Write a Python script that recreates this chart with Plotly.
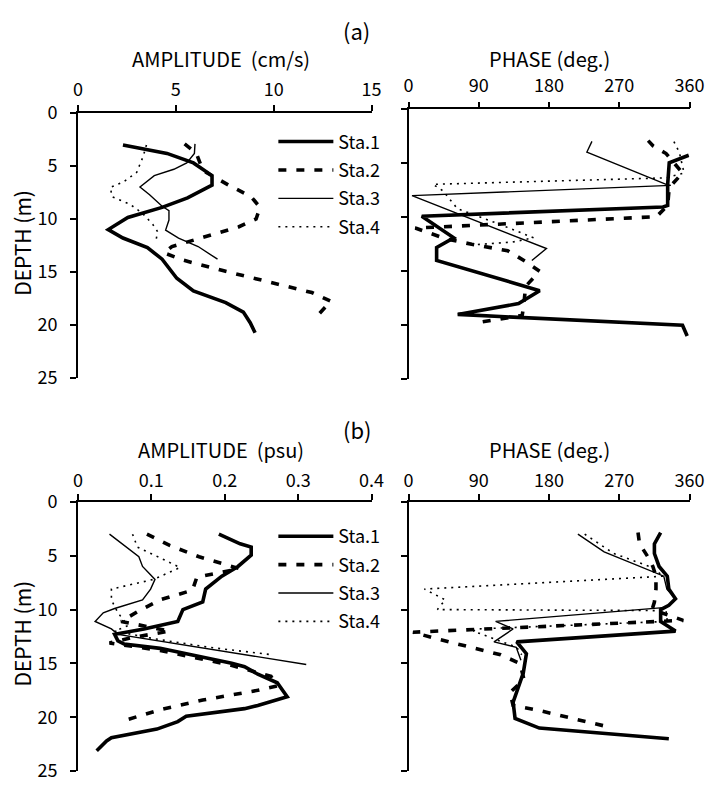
import plotly.graph_objects as go

W, H = 723, 795
FONT = "Noto Sans CJK JP"

stations = ["Sta.1", "Sta.2", "Sta.3", "Sta.4"]

# ---------- (a) current amplitude (cm/s) ----------
a_amp_sta1_depth = [3.0, 3.8, 4.7, 5.9, 6.8, 8.0, 8.9, 9.85, 11.0, 11.8, 12.7, 13.8, 15.6, 16.8, 17.9, 18.8, 19.8, 20.75]
a_amp_sta1 = [2.3, 4.55, 5.9, 6.85, 6.85, 5.6, 4.3, 2.55, 1.55, 2.3, 3.55, 4.3, 5.05, 5.9, 7.55, 8.45, 8.8, 9.05]
a_amp_sta2_depth = [2.9, 3.8, 5.0, 5.6, 6.8, 7.9, 8.9, 10.0, 10.75, 11.4, 12.0, 12.6, 13.2, 13.9, 14.85, 15.75, 16.45, 16.95, 17.8, 18.2, 19.1]
a_amp_sta2 = [5.45, 6.05, 6.3, 6.55, 7.7, 8.85, 9.3, 9.1, 8.2, 7.05, 5.9, 4.8, 4.4, 5.4, 7.35, 9.3, 10.8, 11.95, 12.95, 12.7, 12.25]
a_amp_sta3_depth = [2.9, 3.8, 4.7, 5.3, 5.9, 6.97, 7.7, 8.8, 9.2, 10.1, 11.05, 11.8, 12.6, 13.8]
a_amp_sta3 = [5.98, 5.95, 5.56, 4.9, 3.9, 3.17, 3.66, 4.3, 4.65, 4.65, 4.48, 5.14, 6.14, 7.13]
a_amp_sta4_depth = [3.0, 4.1, 5.6, 6.5, 7.0, 7.9, 8.6, 9.5, 10.5, 11.2, 12.0]
a_amp_sta4 = [3.5, 3.33, 3.0, 2.32, 1.66, 1.74, 2.66, 3.32, 3.82, 4.07, 3.99]

# ---------- (a) current phase (deg.) ----------
a_ph_sta1_depth = [4.26, 4.95, 6.95, 8.9, 9.05, 9.9, 11.9, 12.8, 14.0, 16.8, 18.0, 19.0, 20.0, 21.0]
a_ph_sta1 = [359, 334, 332, 332, 326, 17, 58, 36, 36, 168, 141, 63, 351, 357]
a_ph_sta2_depth = [2.9, 3.4, 4.1, 5.9, 7.25, 8.9, 9.95, 11.0, 12.0, 12.5, 13.1, 14.1, 15.0, 16.4, 18.2, 19.1, 19.7]
a_ph_sta2 = [307, 313.5, 330, 351, 334, 332, 317.6, 8.7, 48, 81, 127, 150, 168, 150, 147.6, 145.6, 93.7]
a_ph_sta3_depth = [2.97, 3.96, 6.95, 7.05, 8.0, 12.9, 14.0]
a_ph_sta3 = [235, 228.5, 330, 336, 4.5, 176.7, 158]
a_ph_sta4_depth = [3.0, 4.0, 5.9, 6.35, 6.95, 7.55, 9.2, 10.7, 11.9, 12.3, 12.6]
a_ph_sta4 = [340, 347, 353, 330, 31.5, 44, 62.6, 118.6, 160, 133, 75]

# ---------- (b) salinity amplitude (psu) ----------
b_amp_sta1_depth = [3.0, 3.9, 4.2, 4.95, 6.0, 6.9, 8.1, 9.3, 10.0, 11.1, 11.8, 12.3, 12.9, 13.2, 13.6, 14.2, 14.98, 15.3, 16.0, 16.8, 18.1, 18.9, 19.2, 19.9, 20.4, 21.1, 21.9, 22.2, 23.1]
b_amp_sta1 = [0.192, 0.221, 0.236, 0.236, 0.218, 0.196, 0.174, 0.170, 0.143, 0.136, 0.090, 0.050, 0.0545, 0.063, 0.112, 0.156, 0.2095, 0.227, 0.245, 0.2715, 0.285, 0.245, 0.227, 0.1475, 0.136, 0.1076, 0.0456, 0.039, 0.0256]
b_amp_sta2_depth = [3.0, 4.05, 5.1, 5.7, 6.2, 7.0, 8.2, 9.1, 10.2, 11.1, 12.0, 12.6, 13.1, 13.8, 15.1, 16.2, 17.1, 17.5, 18.4, 19.3, 20.2]
b_amp_sta2 = [0.094, 0.125, 0.165, 0.196, 0.220, 0.162, 0.156, 0.112, 0.081, 0.059, 0.125, 0.074, 0.043, 0.112, 0.205, 0.263, 0.2715, 0.245, 0.170, 0.112, 0.068]
b_amp_sta3_depth = [3.0, 5.1, 6.0, 7.2, 8.1, 9.1, 9.9, 10.3, 11.1, 11.8, 12.3, 15.1]
b_amp_sta3 = [0.043, 0.083, 0.088, 0.105, 0.099, 0.088, 0.050, 0.0345, 0.0234, 0.0456, 0.0545, 0.311]
b_amp_sta4_depth = [3.0, 4.2, 5.2, 6.1, 7.2, 8.1, 9.1, 10.3, 11.5, 12.0, 12.7, 13.5, 14.2]
b_amp_sta4 = [0.0744, 0.081, 0.112, 0.139, 0.103, 0.0456, 0.0456, 0.0545, 0.068, 0.05, 0.103, 0.178, 0.265]

# ---------- (b) salinity phase (deg.) ----------
b_ph_sta1_depth = [2.85, 3.9, 4.8, 6.0, 6.9, 8.1, 9.0, 9.6, 10.0, 11.1, 12.0, 13.0, 14.1, 15.9, 18.6, 20.1, 21.0, 22.0]
b_ph_sta1 = [323, 315, 315, 321, 331.5, 333.5, 342, 333.5, 323, 323, 342, 138.6, 151, 147, 134, 136.5, 167.6, 333.5]
b_ph_sta2_depth = [2.85, 3.9, 5.1, 6.0, 6.9, 8.1, 9.3, 10.0, 11.0, 12.1, 12.6, 14.2, 15.0, 16.5, 17.7, 18.9, 19.3, 20.8]
b_ph_sta2 = [294, 296, 306.6, 313, 317, 317, 315, 312, 352, 5.8, 30, 118, 142.7, 148, 130, 134, 163, 250.6]
b_ph_sta3_depth = [3.0, 4.65, 6.9, 8.1, 9.0, 9.8, 11.1, 11.8, 13.0, 13.5, 14.7]
b_ph_sta3 = [217, 250.6, 327, 331, 342, 330, 111.6, 134, 109.5, 138, 144]
b_ph_sta4_depth = [3.0, 4.8, 6.0, 6.9, 8.1, 9.1, 10.0, 10.1, 11.1, 11.8, 12.0, 12.9, 13.5, 14.2]
b_ph_sta4 = [225.7, 263, 308.6, 327, 20.4, 47, 37, 330, 331.5, 88.8, 83, 118, 138.6, 145]

depth_ticks = [0, 5, 10, 15, 20, 25]
a_amp_ticks = [0, 5, 10, 15]
b_amp_ticks = [0, 0.1, 0.2, 0.3, 0.4]
b_amp_ticklabels = ["0", "0.1", "0.2", "0.3", "0.4"]
phase_ticks = [0, 90, 180, 270, 360]

styles = [
    dict(width=3.6, dash="solid"),
    dict(width=3.6, dash="8px,10px"),
    dict(width=1.4, dash="solid"),
    dict(width=1.6, dash="2px,5px"),
]

fig = go.Figure()

panels = [
    ("x", "y", [(a_amp_sta1, a_amp_sta1_depth), (a_amp_sta2, a_amp_sta2_depth), (a_amp_sta3, a_amp_sta3_depth), (a_amp_sta4, a_amp_sta4_depth)], "legend"),
    ("x2", "y2", [(a_ph_sta1, a_ph_sta1_depth), (a_ph_sta2, a_ph_sta2_depth), (a_ph_sta3, a_ph_sta3_depth), (a_ph_sta4, a_ph_sta4_depth)], None),
    ("x3", "y3", [(b_amp_sta1, b_amp_sta1_depth), (b_amp_sta2, b_amp_sta2_depth), (b_amp_sta3, b_amp_sta3_depth), (b_amp_sta4, b_amp_sta4_depth)], "legend2"),
    ("x4", "y4", [(b_ph_sta1, b_ph_sta1_depth), (b_ph_sta2, b_ph_sta2_depth), (b_ph_sta3, b_ph_sta3_depth), (b_ph_sta4, b_ph_sta4_depth)], None),
]

for xa, ya, series, leg in panels:
    for i, (vals, dep) in enumerate(series):
        kw = dict(
            x=vals, y=dep, xaxis=xa, yaxis=ya, mode="lines",
            name=stations[i],
            line=dict(color="black", width=styles[i]["width"], dash=styles[i]["dash"]),
            showlegend=leg is not None,
            legendgroup=(leg or "") + stations[i],
        )
        if leg:
            kw["legend"] = leg
        fig.add_trace(go.Scatter(**kw))


def px2paper_x(px):
    return px / W


def px2paper_y(py):
    return 1 - py / H


axis_common = dict(
    showline=True, linecolor="black", linewidth=1.6,
    ticks="outside", ticklen=6, tickwidth=1.6, tickcolor="black",
    showgrid=False, zeroline=False,
    tickfont=dict(family=FONT, size=18, color="black"),
)

xL = [px2paper_x(75), px2paper_x(377)]
xR = [px2paper_x(415), px2paper_x(704)]
yTL = [px2paper_y(375), px2paper_y(101.5)]
yTR = [px2paper_y(376.5), px2paper_y(97.5)]
yBL = [px2paper_y(781.7), px2paper_y(503.3)]
yBR = [px2paper_y(781.7), px2paper_y(503.3)]

xstand = 2
xstand_b = 0
ystand = 9

fig.update_layout(
    xaxis=dict(domain=xL, range=[0, 15], tickvals=a_amp_ticks, side="top", anchor="y", ticklabelstandoff=xstand, **axis_common),
    xaxis2=dict(domain=xR, range=[0, 360], tickvals=phase_ticks, side="top", anchor="y2", ticklabelstandoff=xstand, **axis_common),
    xaxis3=dict(domain=xL, range=[0, 0.4], tickvals=b_amp_ticks, ticktext=b_amp_ticklabels, side="top", anchor="y3", ticklabelstandoff=xstand_b, **axis_common),
    xaxis4=dict(domain=xR, range=[0, 360], tickvals=phase_ticks, side="top", anchor="y4", ticklabelstandoff=xstand_b, **axis_common),
    yaxis=dict(domain=yTL, range=[25, 0], tickvals=depth_ticks, anchor="x", ticklabelstandoff=ystand, **axis_common),
    yaxis2=dict(domain=yTR, range=[25, 0], tickvals=depth_ticks, anchor="x2", showticklabels=False, **axis_common),
    yaxis3=dict(domain=yBL, range=[25, 0], tickvals=depth_ticks, anchor="x3", ticklabelstandoff=ystand, **axis_common),
    yaxis4=dict(domain=yBR, range=[25, 0], tickvals=depth_ticks, anchor="x4", showticklabels=False, **axis_common),
    width=W, height=H,
    margin=dict(l=0, r=0, t=0, b=0),
    paper_bgcolor="white", plot_bgcolor="white",
    font=dict(family=FONT, color="black", size=18),
    legend=dict(
        x=px2paper_x(276), y=px2paper_y(112), xanchor="left", yanchor="top",
        bgcolor="rgba(0,0,0,0)", borderwidth=0, tracegroupgap=2,
        font=dict(family=FONT, size=18, color="black"), itemwidth=55,
    ),
    legend2=dict(
        x=px2paper_x(276), y=px2paper_y(520), xanchor="left", yanchor="top",
        bgcolor="rgba(0,0,0,0)", borderwidth=0, tracegroupgap=2,
        font=dict(family=FONT, size=18, color="black"), itemwidth=55,
    ),
)

annotations = [
    ("(a)", 362, 15, 22, 0),
    ("AMPLITUDE\u00a0 (cm/s)", 222, 45, 20, 0),
    ("PHASE (deg.)", 560, 45, 20, 0),
    ("(b)", 362, 428, 22, 0),
    ("AMPLITUDE\u00a0 (psu)", 222, 449, 20, 0),
    ("PHASE (deg.)", 560, 449, 20, 0),
    ("DEPTH (m)", 18, 236, 21, -90),
    ("DEPTH (m)", 18, 640, 21, -90),
]
for text, x, y, size, ang in annotations:
    fig.add_annotation(
        text=text, x=px2paper_x(x), y=px2paper_y(y), xref="paper", yref="paper",
        xanchor="center", yanchor="middle", showarrow=False, textangle=ang,
        font=dict(family=FONT, size=size, color="black"),
    )

fig.write_html("out.html")
